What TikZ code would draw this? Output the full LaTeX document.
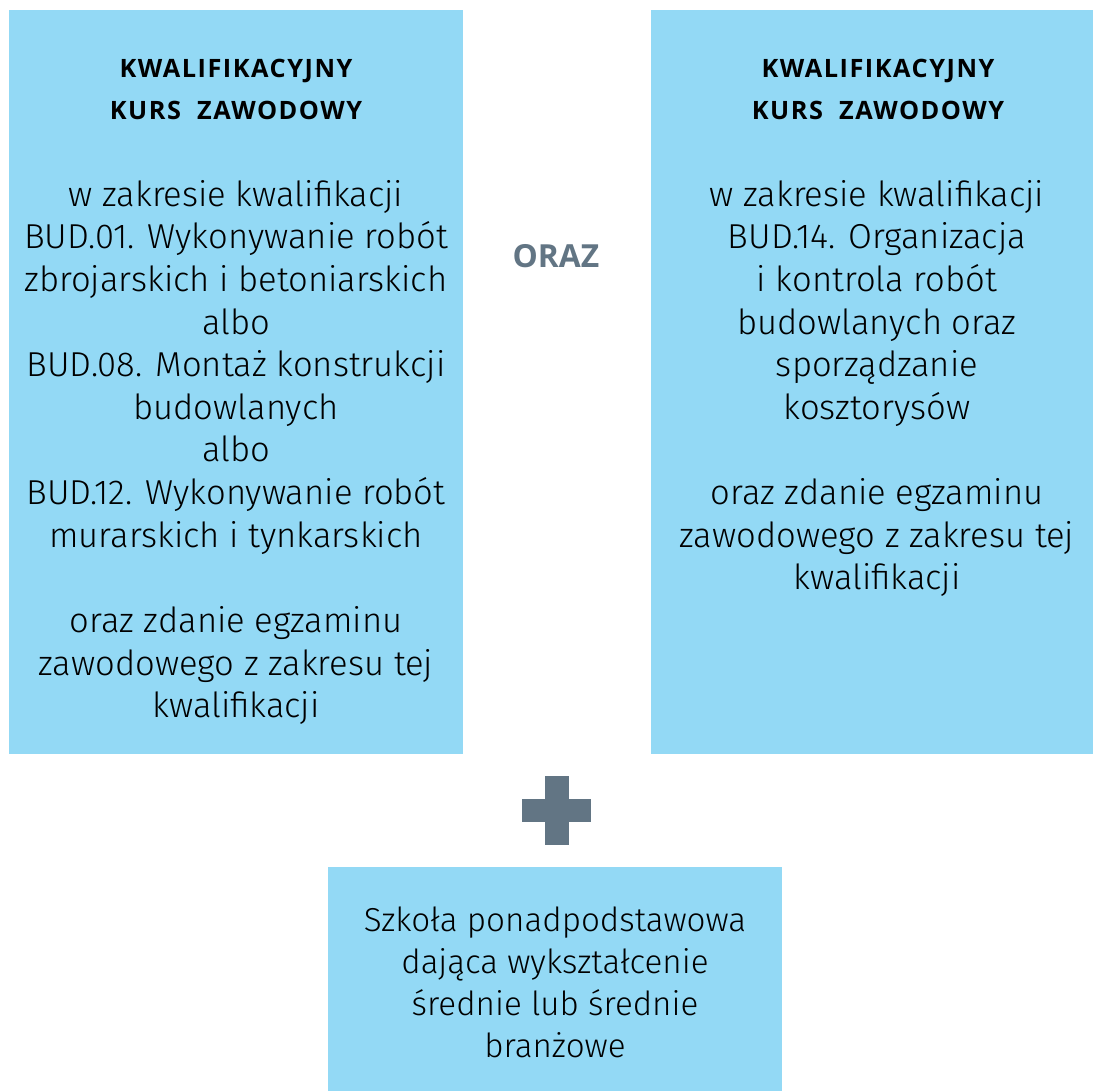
\documentclass[tikz,border=0pt]{standalone}
\usepackage{fontspec}
\setmainfont{Fira Sans Light}
\newfontfamily\headfont{Open Sans}[LetterSpace=6]
\newfontfamily\orazfont{Open Sans}
\usetikzlibrary{positioning,calc}
\definecolor{boxblue}{HTML}{93D9F5}
\definecolor{slate}{HTML}{627584}

\tikzset{
  headtext/.style={inner sep=0pt, align=center, anchor=north,
    font=\headfont\bfseries\fontsize{18pt}{29.8pt}\selectfont},
  bodytext/.style={inner sep=0pt, align=center, anchor=north,
    font=\fontsize{24.6pt}{30.3pt}\selectfont},
}

\begin{document}
\begin{tikzpicture}[x=0.025cm, y=-0.025cm]
			%%%%% START %%%%%
			\useasboundingbox (0, 0) rectangle (1094, 1091);
			
			% the three panels
			\fill[boxblue] (9, 10) rectangle (463, 754);
			\fill[boxblue] (651, 10) rectangle (1093, 754);
			\fill[boxblue] (328, 867) rectangle (782, 1091);
			
			% left panel
			\node[headtext] (lhead) at (236, 59) {KWALIFIKACYJNY\\KURS\ \ ZAWODOWY};
			\node[bodytext] (lbody) at (236, 180) {w zakresie kwalifikacji\\
				BUD.01. Wykonywanie robót\\zbrojarskich i betoniarskich\\albo\\
				BUD.08. Montaż konstrukcji\\budowlanych\\albo\\
				BUD.12. Wykonywanie robót\\murarskich i tynkarskich\\[30.3pt]
				oraz zdanie egzaminu\\zawodowego z zakresu tej\\kwalifikacji};
			
			% middle
			\node[inner sep=0pt, text=slate, font=\orazfont\bfseries\fontsize{22.6pt}{26pt}\selectfont] (oraz) at (556, 256) {ORAZ};
			
			% right panel
			\node[headtext] (rhead) at (878, 59) {KWALIFIKACYJNY\\KURS\ \ ZAWODOWY};
			\node[bodytext] (rbody) at (877, 180) {w zakresie kwalifikacji\\
				BUD.14. Organizacja\\i kontrola robót\\budowlanych oraz\\
				sporządzanie\\kosztorysów\\[30.3pt]
				oraz zdanie egzaminu\\zawodowego z zakresu tej\\kwalifikacji};
			
			% plus sign
			\fill[slate] (545, 776) rectangle (569, 845);
			\fill[slate] (522, 799) rectangle (591, 822);
			
			% bottom panel
			\node[bodytext, font=\fontsize{23.6pt}{29.8pt}\selectfont] (school) at (555, 907) {Szkoła ponadpodstawowa\\
				dająca wykształcenie\\średnie lub średnie\\branżowe};
			%%%%% END %%%%%
\end{tikzpicture}
\end{document}
